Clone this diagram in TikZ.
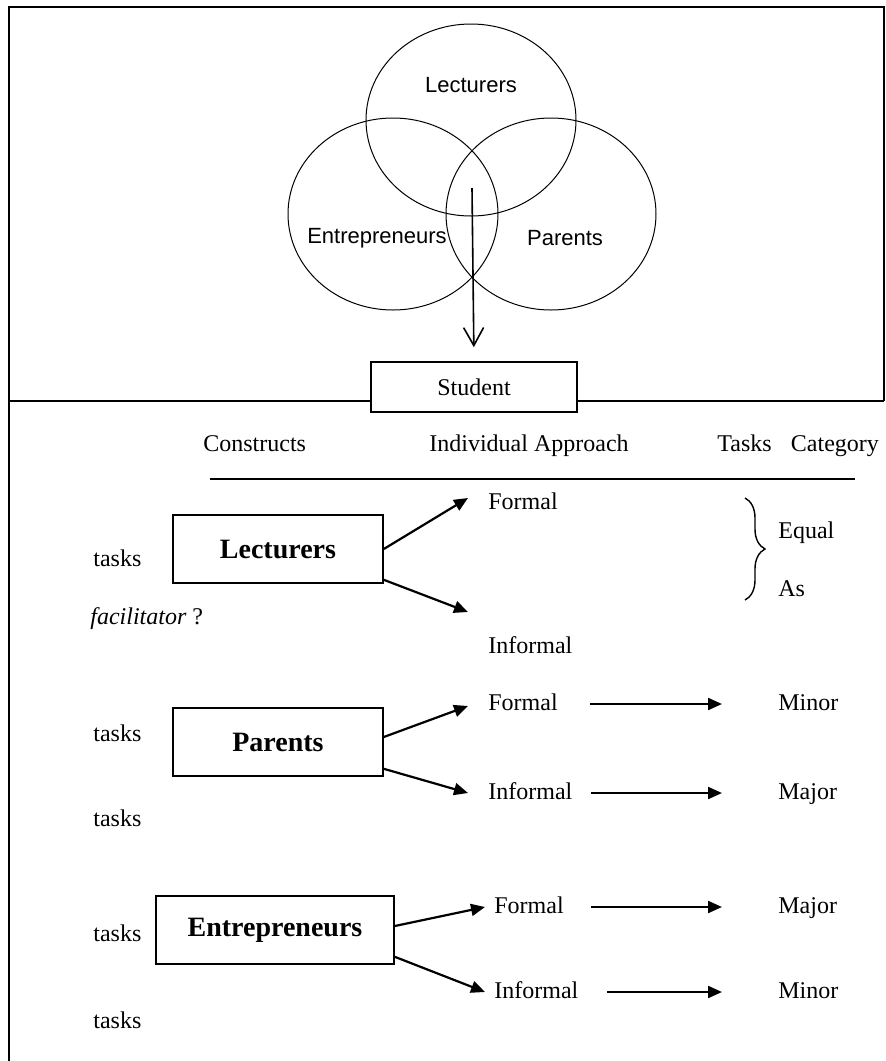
\documentclass[tikz,border=0pt]{standalone}
\usepackage{fontspec}
\setmainfont{Liberation Serif}
\newfontfamily\vennfont{Liberation Sans}
\usepackage{tikz}
\usetikzlibrary{arrows.meta,positioning,calc,shapes.geometric,decorations.pathreplacing}
\definecolor{ink}{HTML}{000000}

\begin{document}
\begin{tikzpicture}[x=0.5pt,y=-0.5pt,
    frame/.style={draw=ink,line width=1.1pt},
    ring/.style={draw=ink,line width=0.5pt,ellipse,minimum width=105pt,minimum height=96pt,inner sep=0pt},
    ringlbl/.style={inner sep=0pt,font=\vennfont\fontsize{11}{13}\selectfont},
    lbl/.style={anchor=west,inner sep=0pt,text height=8pt,text depth=2pt,font=\fontsize{12}{14}\selectfont},
    actor/.style={draw=ink,line width=0.8pt,minimum width=105pt,minimum height=34pt,font=\fontsize{14}{16}\selectfont\bfseries},
    arr/.style={draw=ink,line width=1.1pt,-{Triangle[length=7pt,width=6pt]}}]
  \useasboundingbox (0,0) rectangle (885,1061);

  % outer frame and divider
  \coordinate (tl) at (9,7);
  \coordinate (tr) at (884,7);
  \coordinate (dl) at (9,401);
  \coordinate (dr) at (884,401);
  \coordinate (bl) at (9,1061);
  \draw[frame] (bl) -- (tl) -- (tr) -- (dr);
  \node[draw=ink,line width=0.8pt,minimum width=103pt,minimum height=25pt,
        font=\fontsize{12}{14}\selectfont] (student) at (474,387) {Student};
  \draw[frame] (dl) -- (dl -| student.west);
  \draw[frame] (student.east |- dr) -- (dr);

  % venn of the three constructs
  \node[ring] (c-lect) at (471,120) {};
  \node[ring] (c-entr) at (393,214) {};
  \node[ring] (c-par) at (551,214) {};
  \node[ringlbl] (t-lect) at (471,85) {Lecturers};
  \node[ringlbl] (t-entr) at (377,238) {Entrepreneurs};
  \node[ringlbl] (t-par) at (565,238) {Parents};
  \coordinate (core) at (472,188);
  \draw[line width=0.8pt,shorten >=7pt,-{Straight Barb[length=9pt,width=10pt]}] (core) -- (student.north);

  % table head
  \node[lbl] (h-con) at (203,445) {Constructs};
  \node[lbl] (h-app) at (429,445) {Individual Approach};
  \node[lbl] (h-cat) at (717,445) {Tasks\hspace{0.8em}Category};
  \coordinate (rule-l) at (210,479);
  \coordinate (rule-r) at (855,479);
  \draw[line width=0.8pt] (rule-l) -- (rule-r);

  % lecturers
  \node[actor] (lect) at (278,549) {Lecturers};
  \node[lbl] (lect-task) at (93,560) {tasks};
  \node[lbl] (facil) at (90,618) {\textit{facilitator} ?};
  \node[lbl] (lect-f) at (488,503) {Formal};
  \node[lbl] (lect-i) at (488,647) {Informal};
  \coordinate (lect-f-tip) at (468,498);
  \coordinate (lect-i-tip) at (468,612);
  \draw[arr] (lect.east) -- (lect-f-tip);
  \draw[arr] ([yshift=2pt]lect.south east) -- (lect-i-tip);
  \coordinate (br-t) at (745,498);
  \coordinate (br-b) at (745,600);
  \draw[line width=0.7pt,decorate,decoration={brace,amplitude=10pt}] (br-t) -- (br-b);
  \node[lbl] (equal) at (778,532) {Equal};
  \node[lbl] (as) at (778,590) {As};

  % parents
  \node[actor] (par) at (278,742) {Parents};
  \node[lbl] (par-task1) at (93,735) {tasks};
  \node[lbl] (par-task2) at (93,820) {tasks};
  \node[lbl] (par-f) at (488,704) {Formal};
  \node[lbl] (par-i) at (488,793) {Informal};
  \node[lbl] (par-min) at (778,704) {Minor};
  \node[lbl] (par-maj) at (778,793) {Major};
  \draw[arr] ([yshift=2.5pt]par.east) -- ([xshift=-10pt,yshift=-1pt]par-f.west);
  \draw[arr] ([yshift=4pt]par.south east) -- ([xshift=-10pt]par-i.west);
  \draw[arr,shorten <=16pt,shorten >=28pt] (par-f) -- (par-min);
  \draw[arr,shorten <=9pt,shorten >=28pt] (par-i) -- (par-maj);

  % entrepreneurs
  \node[actor,minimum width=119pt] (entr) at (275,930) {Entrepreneurs};
  \node[lbl] (entr-task1) at (93,935) {tasks};
  \node[lbl] (entr-task2) at (93,1022) {tasks};
  \node[lbl] (entr-f) at (494,907) {Formal};
  \node[lbl] (entr-i) at (494,992) {Informal};
  \node[lbl] (entr-maj) at (778,907) {Major};
  \node[lbl] (entr-min) at (778,992) {Minor};
  \draw[arr] ([yshift=2pt]entr.east) -- ([xshift=-4.5pt]entr-f.west);
  \draw[arr] ([yshift=4pt]entr.south east) -- ([xshift=-4.5pt]entr-i.west);
  \draw[arr,shorten <=13.5pt,shorten >=28pt] (entr-f) -- (entr-maj);
  \draw[arr,shorten <=14pt,shorten >=28pt] (entr-i) -- (entr-min);
\end{tikzpicture}
\end{document}
